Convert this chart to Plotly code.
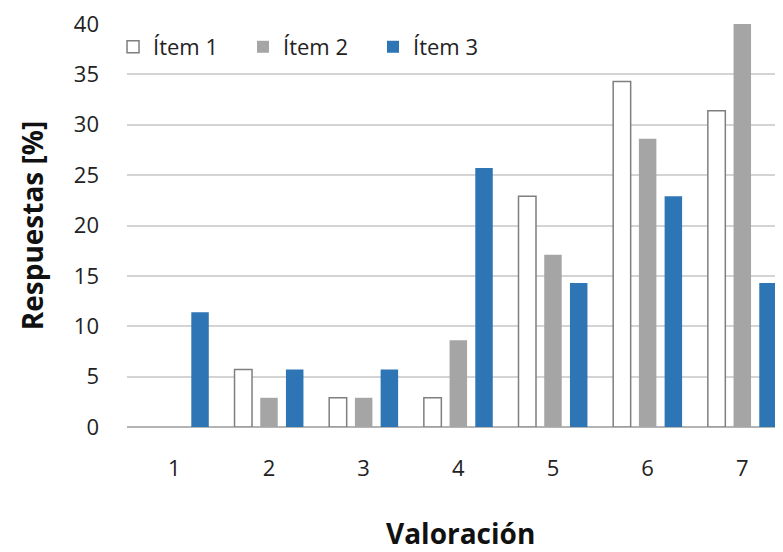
import plotly.graph_objects as go

categories = [1, 2, 3, 4, 5, 6, 7]
tick_labels = ["1", "2", "3", "4", "5", "6", "7"]
item1 = [0, 5.7, 2.9, 2.9, 22.9, 34.3, 31.4]
item2 = [0, 2.9, 2.9, 8.6, 17.1, 28.6, 40.0]
item3 = [11.4, 5.7, 5.7, 25.7, 14.3, 22.9, 14.3]
series_names = ["Ítem 1", "Ítem 2", "Ítem 3"]
y_ticks = [0, 5, 10, 15, 20, 25, 30, 35, 40]
x_title = "Valoración"
y_title = "Respuestas [%]"

font_family = "Open Sans, Noto Sans, sans-serif"

fig = go.Figure()
# zero-height outlined bars are left empty so no stray outline shows at the baseline
fig.add_trace(go.Bar(x=categories, y=[v if v > 0 else None for v in item1],
                     name=series_names[0], legend="legend",
                     marker=dict(color="white", line=dict(color="#7f7f7f", width=1.5))))
fig.add_trace(go.Bar(x=categories, y=item2, name=series_names[1], legend="legend2",
                     marker=dict(color="#a5a5a5", line=dict(width=0))))
fig.add_trace(go.Bar(x=categories, y=item3, name=series_names[2], legend="legend3",
                     marker=dict(color="#2e75b6", line=dict(width=0))))

leg_common = dict(orientation="h", xanchor="left", y=0.943, yanchor="middle",
                  font=dict(size=22, color="#222222"), bgcolor="rgba(255,255,255,0)")

fig.update_layout(
    width=775, height=544,
    margin=dict(l=119, r=0, t=16, b=125),
    paper_bgcolor="white", plot_bgcolor="white",
    barmode="group", bargap=0.185, bargroupgap=0.32,
    font=dict(family=font_family, size=22, color="#222222"),
    legend=dict(x=-0.0213, **leg_common),
    legend2=dict(x=0.1768, **leg_common),
    legend3=dict(x=0.375, **leg_common),
    showlegend=True,
    annotations=[dict(text=f"<b>{x_title}</b>", xref="paper", yref="paper",
                      x=0.509, y=-0.262, xanchor="center", yanchor="middle",
                      showarrow=False, font=dict(size=28, color="#111111"))],
)
fig.update_xaxes(
    range=[0.5, 7.43], tickmode="array", tickvals=categories, ticktext=tick_labels,
    showgrid=False, zeroline=False, showline=False, ticks="",
    ticklabelstandoff=26,
    tickfont=dict(size=22, color="#222222"),
)
fig.update_yaxes(
    range=[0, 40], tickmode="array", tickvals=y_ticks,
    showgrid=True, gridcolor="#d4d4d4", gridwidth=1.5,
    zeroline=True, zerolinecolor="#b4b4b4", zerolinewidth=1.5,
    showline=False, ticks="", ticklabelstandoff=27, ticklabeloverflow="allow",
    title=dict(text=f"<b>{y_title}</b>", font=dict(size=28, color="#111111"), standoff=22),
    tickfont=dict(size=22, color="#222222"),
)

fig.write_html("out.html")
